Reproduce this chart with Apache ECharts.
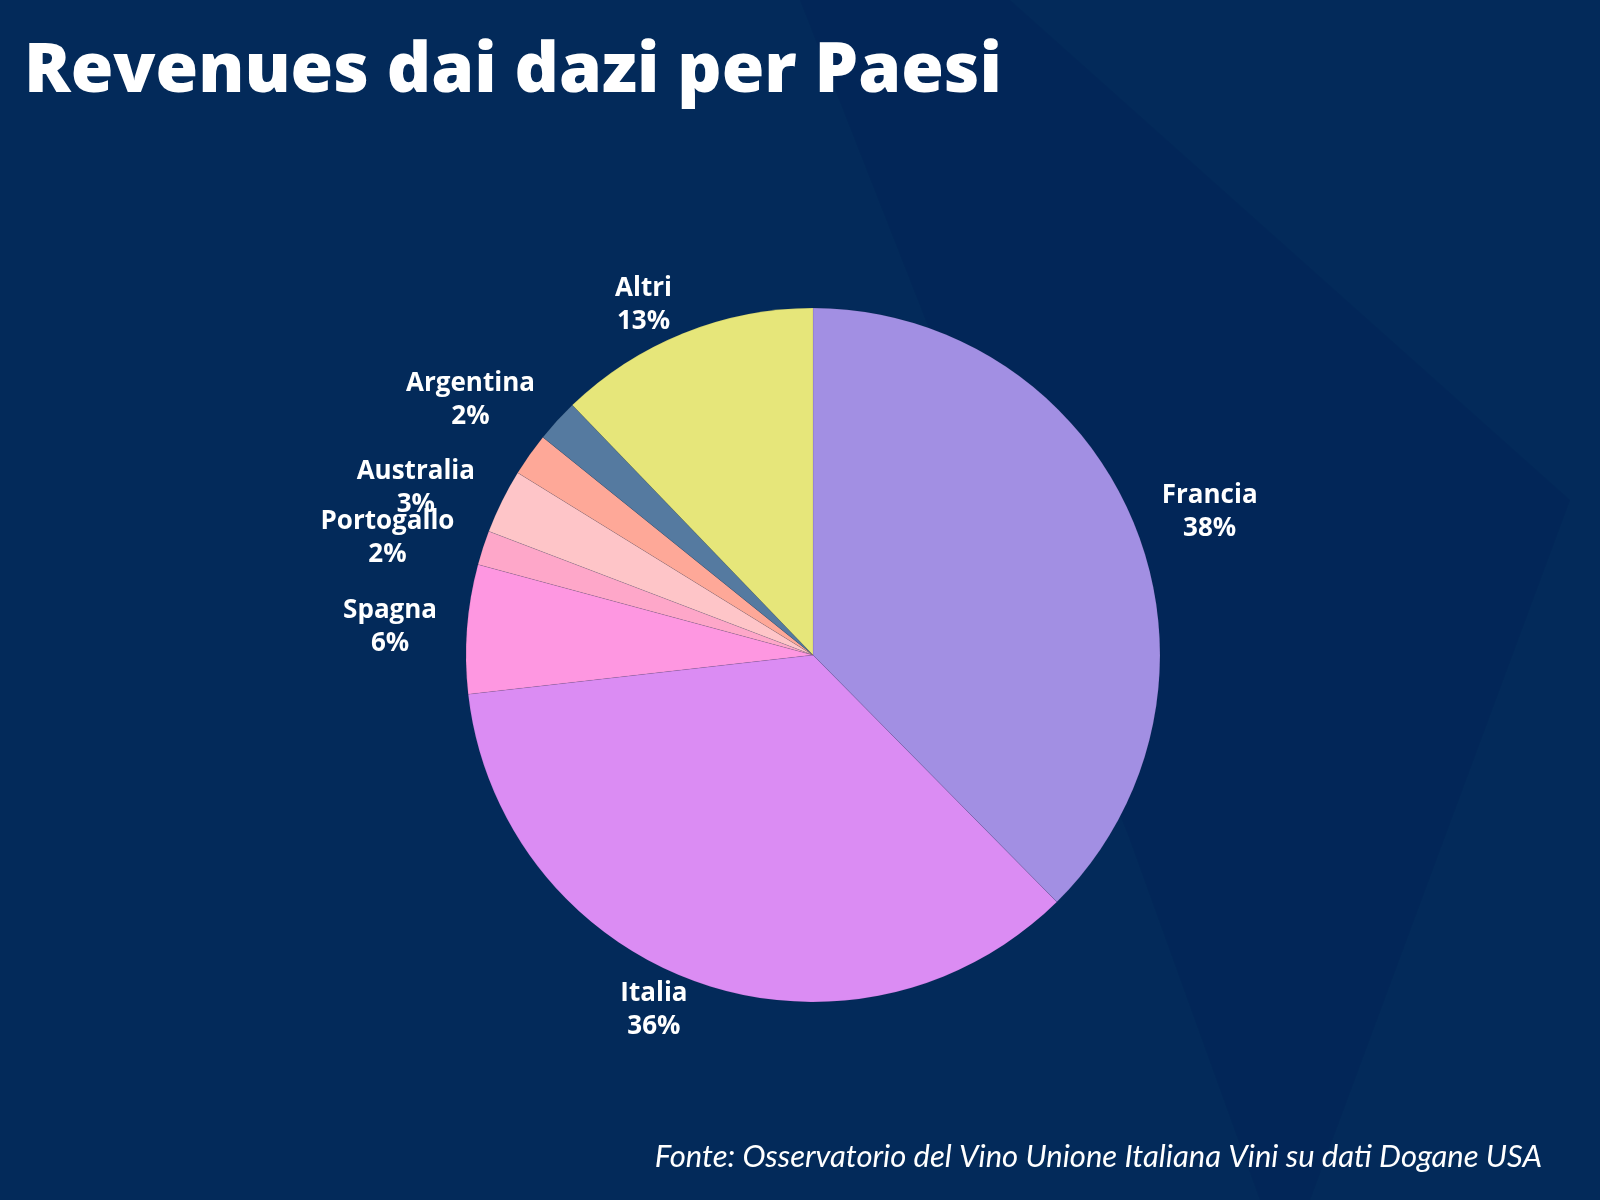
<!DOCTYPE html>
<html><head><meta charset="utf-8">
<script src="https://cdn.jsdelivr.net/npm/echarts@6/dist/echarts.min.js"></script>
<style>html,body{margin:0;padding:0;background:#032a5a}#c{width:1600px;height:1200px}</style>
</head><body><div id="c"></div>
<script>
const categories=['Francia','Italia','Spagna','Portogallo','Australia','Nuova Zelanda','Argentina','Altri'];
const values=[37.6,35.6,6,1.6,3,2,2,12.2];
const shownPct=[38,36,6,2,3,2,2,13];
const showLabel=[true,true,true,true,true,false,true,true];
const colors=['#a28fe3','#db8cf3','#fe97e1','#fea7c9','#fec5c8','#fea898','#557aa0','#e6e67a'];
const chart=echarts.init(document.getElementById('c'));
chart.setOption({
  backgroundColor:'#032a5a',
  graphic:[
    {type:'polygon',shape:{points:[[800,0],[1010,0],[1570,500],[1310,1200],[1260,1200],[1130,840]]},style:{fill:'rgba(0,20,70,0.12)'},z:-1},
    {type:'text',left:24,top:38,style:{text:'Revenues dai dazi per Paesi',fill:'#fff',font:'800 69px "Open Sans"'}},
    {type:'text',right:58,top:1141,style:{text:'Fonte: Osservatorio del Vino Unione Italiana Vini su dati Dogane USA',fill:'#fff',font:'italic 31px Lato'}}
  ],
  series:[{
    type:'pie',center:[813,655],radius:[0,347],startAngle:90,clockwise:true,
    emphasis:{disabled:true},avoidLabelOverlap:false,
    itemStyle:{borderColor:'rgba(0,0,0,0.15)',borderWidth:0.5},
    label:{show:true,position:'outside',color:'#fff',fontFamily:'"Open Sans"',fontWeight:'bold',fontSize:26,lineHeight:33},
    labelLine:{show:false,length:30,length2:0},
    labelLayout:function(p){
      const pts=p.labelLinePoints; if(!pts) return {hideOverlap:false};
      const e=pts[pts.length-1], w=p.labelRect.width;
      const left=e[0]<813;
      return {x:left?e[0]-w/2:e[0]+w/2, y:e[1], align:'center', verticalAlign:'middle', hideOverlap:false};
    },
    data:categories.map((c,i)=>({name:c,value:values[i],itemStyle:{color:colors[i]},
      label:{show:showLabel[i],formatter:c+'\n'+shownPct[i]+'%'}}))
  }]
});
</script></body></html>
